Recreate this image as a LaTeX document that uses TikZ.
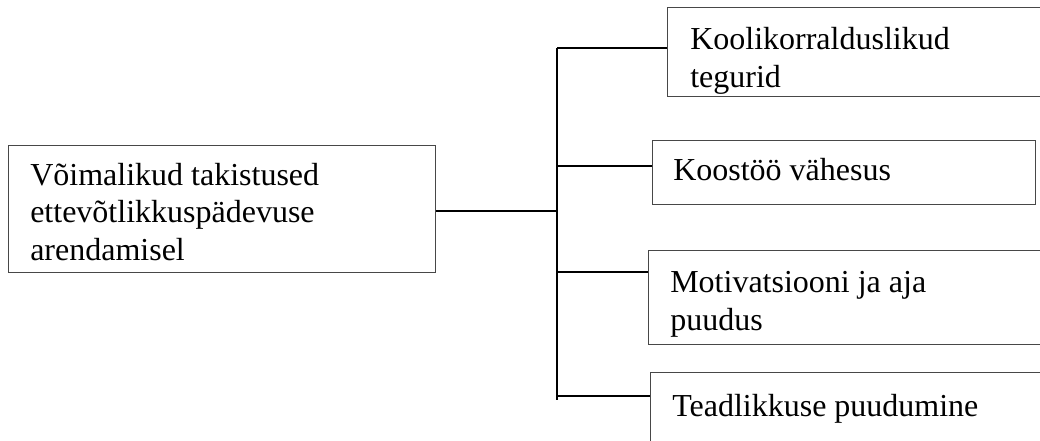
\documentclass[tikz,border=0pt]{standalone}
\usepackage{fontspec}
\setmainfont{Liberation Serif}
\newfontfamily\tnr{Liberation Serif}
\begin{document}
\begin{tikzpicture}[x=0.75pt,y=-0.75pt,
  boxnode/.style={draw=black!72,line width=1pt,rectangle,inner sep=0pt,anchor=north west},
  txt/.style={anchor=base west,inner sep=0pt,align=left,font=\tnr\fontsize{24}{27.8}\selectfont},
  conn/.style={line width=1.3pt,black}]
\useasboundingbox (0,0) rectangle (1040,440);
\clip (0,0) rectangle (1040,440);
% boxes
\node[boxnode,minimum width=427*0.75pt,minimum height=127*0.75pt] (main) at (8,145) {};
\node[boxnode,minimum width=400*0.75pt,minimum height=89*0.75pt] (b1) at (667,7) {};
\node[boxnode,minimum width=383*0.75pt,minimum height=64*0.75pt] (b2) at (652,140) {};
\node[boxnode,minimum width=400*0.75pt,minimum height=94*0.75pt] (b3) at (648,250) {};
\node[boxnode,minimum width=400*0.75pt,minimum height=100*0.75pt] (b4) at (650,372) {};
% texts (base anchor = baseline of last line)
\node[txt] (tmain) at (30,260) {Võimalikud takistused\\ettevõtlikkuspädevuse\\arendamisel};
\begin{scope}
\clip (b1.north west) rectangle (b1.south east);
\node[txt] (t1) at (690,87) {Koolikorralduslikud\\tegurid};
\end{scope}
\node[txt] (t2) at (673,180) {Koostöö vähesus};
\node[txt] (t3) at (670,330) {Motivatsiooni ja aja\\puudus};
\node[txt] (t4) at (672,416) {Teadlikkuse puudumine};
% trunk
\coordinate (ttop) at (557,48);
\coordinate (tbot) at (557,400);
\coordinate (tmid) at (557,211);
\coordinate (r2) at (557,166);
\coordinate (r3) at (557,272);
\coordinate (r4) at (557,396);
\draw[conn] (ttop) -- (tbot);
\draw[conn] (main.east |- tmid) -- (tmid);
\draw[conn] (ttop) -- (ttop -| b1.west);
\draw[conn] (r2) -- (r2 -| b2.west);
\draw[conn] (r3) -- (r3 -| b3.west);
\draw[conn] (r4) -- (r4 -| b4.west);
\end{tikzpicture}
\end{document}
